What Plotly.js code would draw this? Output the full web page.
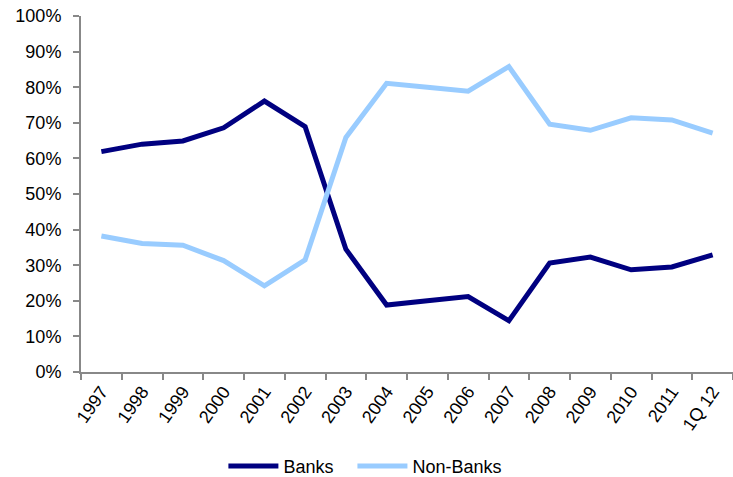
<!DOCTYPE html>
<html>
<head>
<meta charset="utf-8">
<script src="https://cdn.plot.ly/plotly-3.0.1.min.js"></script>
<style>html,body{margin:0;padding:0;background:#fff;}#chart{width:733px;height:477px;}</style>
</head>
<body>
<div id="chart"></div>
<script>
const categories = ["1997","1998","1999","2000","2001","2002","2003","2004","2005","2006","2007","2008","2009","2010","2011","1Q 12"];
const banks    = [61.9, 64.0, 64.9, 68.6, 76.1, 68.9, 34.5, 18.8, 20.0, 21.2, 14.4, 30.6, 32.3, 28.7, 29.5, 32.9];
const nonBanks = [38.2, 36.1, 35.6, 31.3, 24.2, 31.5, 65.9, 81.1, 80.0, 78.9, 85.8, 69.6, 67.9, 71.4, 70.8, 67.1];

const traces = [
  {x: categories, y: banks, name: "Banks", type: "scatter", mode: "lines",
   line: {color: "#000080", width: 5}, legend: "legend"},
  {x: categories, y: nonBanks, name: "Non-Banks", type: "scatter", mode: "lines",
   line: {color: "#99CCFF", width: 5}, legend: "legend2"}
];

const legendBase = {orientation: "h", xanchor: "left", y: -0.265, yanchor: "middle",
                    font: {size: 18}, itemwidth: 50, bgcolor: "rgba(0,0,0,0)"};

const layout = {
  width: 733, height: 477,
  margin: {l: 81, r: 0, t: 16, b: 105, autoexpand: false},
  paper_bgcolor: "#fff", plot_bgcolor: "#fff",
  font: {family: "Liberation Sans, Arial, sans-serif", size: 18, color: "#000"},
  showlegend: true,
  legend: Object.assign({}, legendBase, {x: 0.2184}),
  legend2: Object.assign({}, legendBase, {x: 0.4163}),
  xaxis: {
    type: "category", range: [-0.5, 15.5], tickson: "boundaries", automargin: false,
    showline: true, linecolor: "#888", linewidth: 2,
    ticks: "outside", ticklen: 6, tickwidth: 2, tickcolor: "#888",
    showgrid: false, zeroline: false, tickangle: -55,
    tickfont: {size: 18}
  },
  yaxis: {
    range: [0, 100], dtick: 10, ticksuffix: "%", automargin: false,
    showline: true, linecolor: "#888", linewidth: 2,
    ticks: "outside", ticklen: 6, tickwidth: 2, tickcolor: "#888",
    ticklabelstandoff: 8,
    showgrid: false, zeroline: false, tickfont: {size: 18}
  }
};

Plotly.newPlot("chart", traces, layout, {displayModeBar: false, staticPlot: true});
</script>
</body>
</html>
